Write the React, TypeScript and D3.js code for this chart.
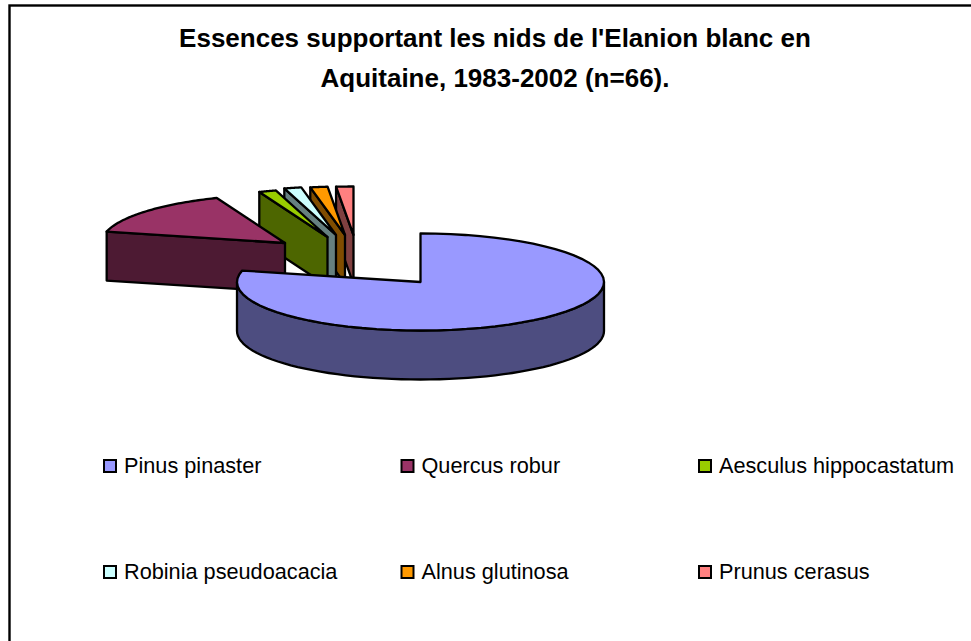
import React from "react";
import * as d3 from "d3";

const categories = ["Pinus pinaster", "Quercus robur", "Aesculus hippocastatum", "Robinia pseudoacacia", "Alnus glutinosa", "Prunus cerasus"];
const counts = [52, 10, 1, 1, 1, 1];
const topColors = ["#9999FF", "#993366", "#99CC00", "#CCFFFF", "#FF9900", "#FF8080"];
const sideColors = ["#4D4D80", "#4D1A33", "#4D6600", "#668080", "#804D00", "#804040"];
const titleLines = ["Essences supportant les nids de l'Elanion blanc en", "Aquitaine, 1983-2002 (n=66)."];

// layout of the exploded slices, as apex shift from the pie centre
const explodeX = [0, -135.5, -93, -84.5, -75.5, -67];
const explodeY = [0, -39, -45, -47, -47, -47];

const W = 971, H = 641;
const cx = 420.5, cy = 282, rx = 183.5, ry = 48.5, depth = 49;
const stroke = { stroke: "#000", strokeWidth: 2.3, strokeLinejoin: "round" as const };

const arcs = d3.pie<number>().sort(null)(counts);
const pt = (a: number, ox: number, oy: number, dy = 0): [number, number] =>
  [cx + ox + rx * Math.sin(a), cy + oy - ry * Math.cos(a) + dy];
const line = d3.line<[number, number]>();

function arcPts(a0: number, a1: number, ox: number, oy: number, dy = 0) {
  return d3.range(0, 61).map((i) => pt(a0 + ((a1 - a0) * i) / 60, ox, oy, dy));
}

function Slice({ i }: { i: number }) {
  const { startAngle: a0, endAngle: a1 } = arcs[i];
  const ox = explodeX[i], oy = explodeY[i];
  const apex: [number, number] = [cx + ox, cy + oy];
  const apexLow: [number, number] = [apex[0], apex[1] + depth];
  const top = line([apex, ...arcPts(a0, a1, ox, oy)]) + "Z";
  // outer wall: only the front half (between 90° and 270°) faces the viewer
  const w0 = Math.max(a0, Math.PI / 2), w1 = Math.min(a1, (3 * Math.PI) / 2);
  const wall = w1 > w0
    ? line([...arcPts(w0, w1, ox, oy), ...arcPts(w0, w1, ox, oy, depth).reverse()]) + "Z"
    : null;
  // radial cut face, on the left-hand edge of the exploded slices
  const s = pt(a0, ox, oy), sLow = pt(a0, ox, oy, depth);
  const cut = i > 0 ? line([s, apex, apexLow, sLow]) + "Z" : null;
  return (
    <g {...stroke}>
      {cut && <path d={cut} fill={sideColors[i]} />}
      {wall && <path d={wall} fill={sideColors[i]} />}
      <path d={top} fill={topColors[i]} />
    </g>
  );
}

const legendX = d3.scalePoint<number>().domain([0, 1, 2]).range([104, 699]);
const legendY = d3.scalePoint<number>().domain([0, 1]).range([466, 572]);

export default function App() {
  const order = d3.range(counts.length).reverse();
  return (
    <svg width={W} height={H} style={{ position: "absolute", left: 0, top: 0, background: "#fff" }}
      fontFamily="'Liberation Sans', Arial, sans-serif">
      <rect x={9.5} y={5.5} width={W + 10} height={H + 10} fill="#fff" stroke="#000" strokeWidth={2.4} />
      {titleLines.map((t, i) => (
        <text key={t} x={495} y={47 + i * 40} textAnchor="middle" fontWeight="bold" fontSize={26} fill="#000">{t}</text>
      ))}
      {order.map((i) => <Slice key={i} i={i} />)}
      {categories.map((c, i) => {
        const x = legendX(i % 3)!, y = legendY(Math.floor(i / 3))!;
        return (
          <g key={c}>
            <rect x={x} y={y - 6} width={12} height={12} fill={topColors[i]} stroke="#000" strokeWidth={2} />
            <text x={x + 20} y={y + 7} fontSize={21.7} fill="#000">{c}</text>
          </g>
        );
      })}
    </svg>
  );
}
